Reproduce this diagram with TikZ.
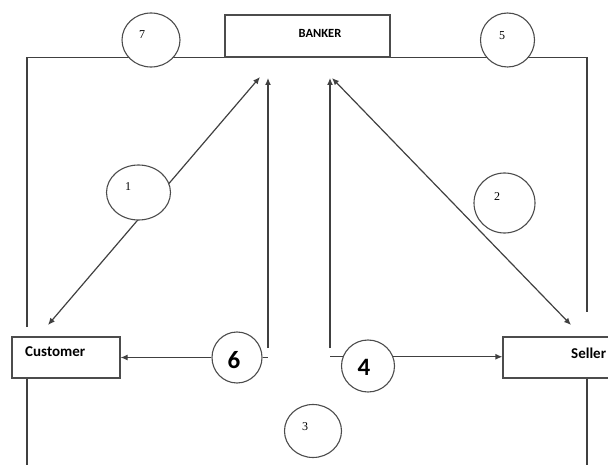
\documentclass[tikz,border=0pt]{standalone}
\usepackage{fontspec}
\setmainfont{Liberation Serif}
\newfontfamily\calibri{Carlito}
\usetikzlibrary{arrows.meta,shapes.geometric}

\begin{document}
\begin{tikzpicture}[x=1pt,y=-1pt,
    box/.style={draw=black!70, line width=1.2pt, inner sep=0pt},
    ring/.style={ellipse, draw=black!70, line width=1.1pt, fill=white, inner sep=0pt},
    link/.style={draw=black!75, line width=1.2pt},
    flow/.style={link, -{Latex[length=7pt,width=6pt]}},
    both/.style={link, {Latex[length=7pt,width=6pt]}-{Latex[length=7pt,width=6pt]}},
    small/.style={font=\fontsize{12}{14}\selectfont, inner sep=0pt},
    big/.style={font=\calibri\bfseries\fontsize{25}{28}\selectfont, inner sep=0pt},
    tag/.style={font=\calibri\bfseries\fontsize{15}{17}\selectfont, inner sep=0pt}]
    \useasboundingbox (0,0) rectangle (608,465);
    \clip (0,0) rectangle (608,465);
    \node [box, minimum width=165pt, minimum height=42pt] (banker) at (307.5,36) {};
    \node [tag, font=\calibri\bfseries\fontsize{12.5}{14}\selectfont] (bankertext) at (320,33) {BANKER};
    \node [box, minimum width=108pt, minimum height=41pt] (customer) at (66,357.5) {};
    \node [tag, anchor=west] (customertext) at (25,352) {Customer};
    \node [box, minimum width=127pt, minimum height=41pt] (seller) at (566.5,357.5) {};
    \node [tag, anchor=west] (sellertext) at (571,353) {Seller};
    \coordinate (lt) at (27,327);
    \coordinate (lb) at (27,470);
    \coordinate (rt) at (587,312);
    \coordinate (rb) at (587,470);
    \coordinate (a1) at (260,77);
    \coordinate (b1) at (48,325);
    \coordinate (a2) at (332,78);
    \coordinate (b2) at (571,325);
    \coordinate (v6a) at (268,348);
    \coordinate (v6b) at (268,78);
    \coordinate (v4a) at (330,348);
    \coordinate (v4b) at (330,78);
    \draw [link] (lt) |- (banker.south west);
    \draw [link] (banker.south east) -| (rt);
    \draw [link] (customer.south -| lt) -- (lb);
    \draw [link] (seller.south -| rt) -- (rb);
    \draw [both] (a1) -- (b1);
    \draw [both] (a2) -- (b2);
    \draw [flow] (v6a) -- (v6b);
    \draw [flow] (v4a) -- (v4b);
    \node [ring, minimum width=58pt, minimum height=54pt] (c7) at (151,40) {};
    \node [small] (n7) at (142,35) {7};
    \node [ring, minimum width=54pt, minimum height=54pt] (c5) at (507.5,40) {};
    \node [small] (n5) at (502,36) {5};
    \node [ring, minimum width=64pt, minimum height=55pt] (c1) at (138.5,192.5) {};
    \node [small] (n1) at (128,187) {1};
    \node [ring, minimum width=61pt, minimum height=60pt] (c2) at (504.5,203) {};
    \node [small] (n2) at (497,197) {2};
    \node [ring, minimum width=57pt, minimum height=53pt] (c3) at (313,431) {};
    \node [small] (n3) at (305,427) {3};
    \node [ring, minimum width=50pt, minimum height=51pt] (c6) at (237,357.5) {};
    \node [big] (n6) at (234,360) {6};
    \node [ring, minimum width=53pt, minimum height=52pt] (c4) at (368,366) {};
    \node [big] (n4) at (364,367) {4};
    \draw [flow] (c6.west) -- (customer.east);
    \draw [link] (c6.east) -- (c6.east -| v6a);
    \draw [flow] (c4.20) -- (c4.20 -| seller.west);
    \draw [link] (c4.160) -- (c4.160 -| v4a);
\end{tikzpicture}
\end{document}
